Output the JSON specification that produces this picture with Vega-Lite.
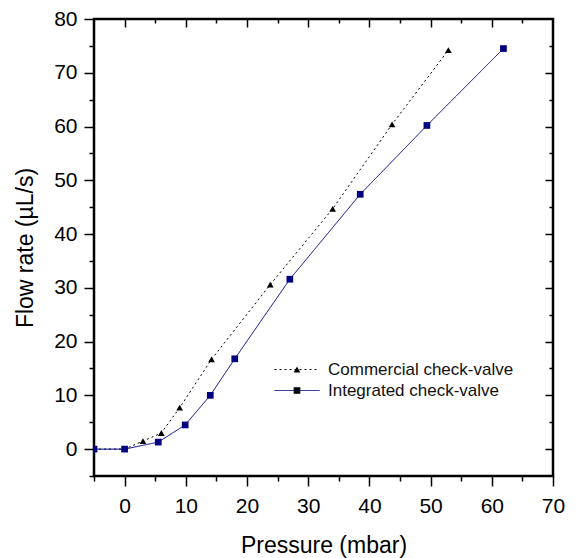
{
  "$schema": "https://vega.github.io/schema/vega-lite/v6.json",
  "width": 459,
  "height": 457,
  "autosize": {"type": "none"},
  "padding": {"left": 94, "top": 19, "right": 23, "bottom": 82},
  "view": {"stroke": "#000000", "strokeWidth": 2.5},
  "config": {
    "font": "Liberation Sans"
  },
  "data": {
    "values": [
      {"series": "Commercial check-valve", "p": -5, "q": 0},
      {"series": "Commercial check-valve", "p": 0, "q": 0},
      {"series": "Commercial check-valve", "p": 3, "q": 1.5},
      {"series": "Commercial check-valve", "p": 6, "q": 3.0},
      {"series": "Commercial check-valve", "p": 9, "q": 7.7},
      {"series": "Commercial check-valve", "p": 14.2, "q": 16.7},
      {"series": "Commercial check-valve", "p": 23.8, "q": 30.6},
      {"series": "Commercial check-valve", "p": 34, "q": 44.7},
      {"series": "Commercial check-valve", "p": 43.7, "q": 60.4},
      {"series": "Commercial check-valve", "p": 52.9, "q": 74.2},
      {"series": "Integrated check-valve", "p": -5, "q": 0},
      {"series": "Integrated check-valve", "p": 0, "q": 0},
      {"series": "Integrated check-valve", "p": 5.5, "q": 1.3},
      {"series": "Integrated check-valve", "p": 9.9, "q": 4.5},
      {"series": "Integrated check-valve", "p": 14, "q": 10},
      {"series": "Integrated check-valve", "p": 18, "q": 16.8},
      {"series": "Integrated check-valve", "p": 27, "q": 31.6},
      {"series": "Integrated check-valve", "p": 38.5, "q": 47.4},
      {"series": "Integrated check-valve", "p": 49.4, "q": 60.2},
      {"series": "Integrated check-valve", "p": 61.9, "q": 74.5}
    ]
  },
  "resolve": {"axis": {"x": "independent", "y": "independent"}},
  "layer": [
    {
      "mark": {"type": "line", "strokeWidth": 1, "clip": true},
      "encoding": {
        "x": {
          "field": "p", "type": "quantitative",
          "scale": {"domain": [-5, 70], "nice": false, "zero": false},
          "axis": {
            "orient": "bottom", "values": [0, 10, 20, 30, 40, 50, 60, 70],
            "domain": false, "grid": false, "tickSize": 10, "tickWidth": 1.5, "tickColor": "black",
            "labelFontSize": 21, "labelColor": "black", "labelPadding": 9, "labelFlush": false, "labelOverlap": false,
            "title": "Pressure (mbar)", "titleFontSize": 23, "titleFontWeight": "normal", "titleColor": "black", "titlePadding": 18
          }
        },
        "y": {
          "field": "q", "type": "quantitative",
          "scale": {"domain": [-5, 80], "nice": false, "zero": false},
          "axis": {
            "orient": "left", "values": [0, 10, 20, 30, 40, 50, 60, 70, 80],
            "domain": false, "grid": false, "tickSize": 10, "tickWidth": 1.5, "tickColor": "black",
            "labelFontSize": 21, "labelColor": "black", "labelPadding": 7, "labelFlush": false, "labelOverlap": false,
            "title": "Flow rate (µL/s)", "titleFontSize": 23, "titleFontWeight": "normal", "titleColor": "black", "titlePadding": 16
          }
        },
        "color": {
          "field": "series", "type": "nominal",
          "scale": {"domain": ["Commercial check-valve", "Integrated check-valve"], "range": ["black", "#000080"]},
          "legend": {
            "orient": "none", "legendX": 180, "legendY": 340, "title": null, "padding": 0,
            "clipHeight": 21, "rowPadding": 0, "labelFontSize": 17, "labelColor": "#111111", "labelOffset": 8, "labelLimit": 400,
            "symbolType": "stroke", "symbolSize": 2025, "symbolStrokeWidth": 1
          }
        },
        "strokeDash": {
          "field": "series", "type": "nominal",
          "scale": {"domain": ["Commercial check-valve", "Integrated check-valve"], "range": [[2, 3], [1, 0]]},
          "legend": {
            "orient": "none", "legendX": 180, "legendY": 340, "title": null, "padding": 0,
            "clipHeight": 21, "rowPadding": 0, "labelFontSize": 17, "labelColor": "#111111", "labelOffset": 8, "labelLimit": 400,
            "symbolType": "stroke", "symbolSize": 2025, "symbolStrokeWidth": 1
          }
        }
      }
    },
    {
      "mark": {"type": "point", "filled": true, "size": 45, "opacity": 1, "clip": true},
      "encoding": {
        "x": {
          "field": "p", "type": "quantitative",
          "axis": {
            "orient": "top", "values": [0, 10, 20, 30, 40, 50, 60],
            "domain": false, "grid": false, "labels": false, "title": null,
            "tickSize": -8, "tickWidth": 1.5, "tickColor": "black"
          }
        },
        "y": {
          "field": "q", "type": "quantitative",
          "axis": {
            "orient": "right", "values": [0, 10, 20, 30, 40, 50, 60, 70],
            "domain": false, "grid": false, "labels": false, "title": null,
            "tickSize": -8, "tickWidth": 1.5, "tickColor": "black"
          }
        },
        "color": {"field": "series", "type": "nominal", "legend": null},
        "shape": {
          "field": "series", "type": "nominal",
          "scale": {"range": ["triangle-up", "square"]},
          "legend": {
            "orient": "none", "legendX": 180, "legendY": 340, "title": null, "padding": 0,
            "clipHeight": 21, "rowPadding": 0, "labelFontSize": 17, "labelExpr": "''",
            "symbolOffset": 14.5, "symbolSize": 45, "symbolStrokeWidth": 0,
            "encode": {
              "symbols": {
                "update": {
                  "fill": {"signal": "scale('color', datum.value)"},
                  "stroke": {"signal": "scale('color', datum.value)"}
                }
              }
            }
          }
        }
      }
    },
    {
      "mark": {"type": "point", "opacity": 0},
      "encoding": {
        "x": {
          "field": "p", "type": "quantitative",
          "axis": {
            "orient": "bottom", "values": [-5, 5, 15, 25, 35, 45, 55, 65],
            "domain": false, "grid": false, "labels": false, "title": null,
            "tickSize": 5, "tickWidth": 1.5, "tickColor": "black"
          }
        },
        "y": {
          "field": "q", "type": "quantitative",
          "axis": {
            "orient": "left", "values": [-5, 5, 15, 25, 35, 45, 55, 65, 75],
            "domain": false, "grid": false, "labels": false, "title": null,
            "tickSize": 5, "tickWidth": 1.5, "tickColor": "black"
          }
        }
      }
    },
    {
      "mark": {"type": "point", "opacity": 0},
      "encoding": {
        "x": {
          "field": "p", "type": "quantitative",
          "axis": {
            "orient": "top", "values": [5, 15, 25, 35, 45, 55, 65],
            "domain": false, "grid": false, "labels": false, "title": null,
            "tickSize": -4, "tickWidth": 1.5, "tickColor": "black"
          }
        },
        "y": {
          "field": "q", "type": "quantitative",
          "axis": {
            "orient": "right", "values": [5, 15, 25, 35, 45, 55, 65, 75],
            "domain": false, "grid": false, "labels": false, "title": null,
            "tickSize": -4, "tickWidth": 1.5, "tickColor": "black"
          }
        }
      }
    }
  ]
}
